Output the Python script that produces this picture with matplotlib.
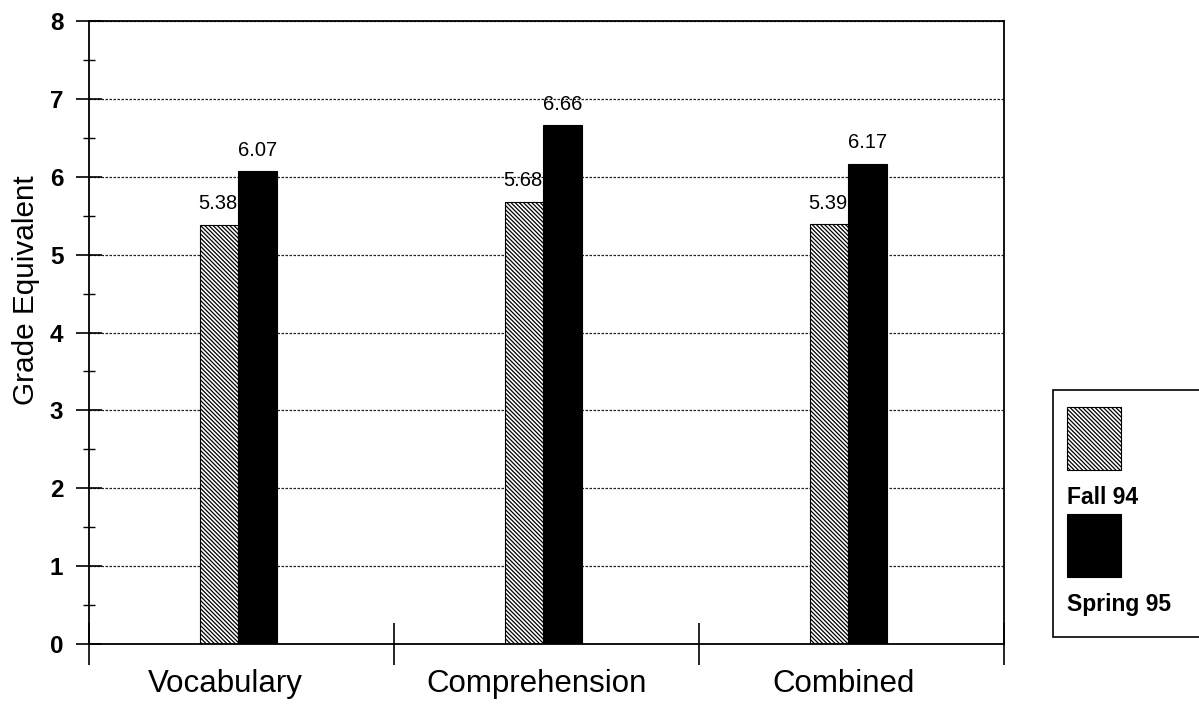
import matplotlib
matplotlib.use("Agg")
import matplotlib.pyplot as plt
from matplotlib.patches import Rectangle
from matplotlib.ticker import MultipleLocator, FixedLocator, NullFormatter
import numpy as np

plt.rcParams["font.family"] = ["Liberation Sans", "DejaVu Sans"]
plt.rcParams["hatch.linewidth"] = 0.9

# ── Data ───────────────────────────────────────────────────────────────────
categories = ["Vocabulary", "Comprehension", "Combined"]
series_names = ["Fall 94", "Spring 95"]
fall_94 = [5.38, 5.68, 5.39]
spring_95 = [6.07, 6.66, 6.17]
y_label = "Grade Equivalent"

HATCH = "\\" * 8

# ── Figure ─────────────────────────────────────────────────────────────────
fig = plt.figure(figsize=(11.99, 7.05), dpi=100)
ax = fig.add_axes([0.0742, 0.0865, 0.7632, 0.8837])

idx = np.arange(len(categories))
width = 0.127
fall_x = idx + 0.426
spring_x = idx + 0.553

ax.bar(fall_x, fall_94, width, color="white", edgecolor="black",
       hatch=HATCH, linewidth=0.8, zorder=3)
ax.bar(spring_x, spring_95, width, color="black", edgecolor="black",
       linewidth=0.8, zorder=3)

for x, v in zip(fall_x, fall_94):
    ax.text(x - 0.005, v + 0.15, f"{v:.2f}", ha="center", va="bottom",
            fontsize=14.5)
for x, v in zip(spring_x, spring_95):
    ax.text(x, v + 0.15, f"{v:.2f}", ha="center", va="bottom",
            fontsize=14.5)

ax.set_xlim(0, 3)
ax.set_ylim(0, 8)

# y axis: bold integer ticks, short minor ticks at the half marks
ax.yaxis.set_major_locator(MultipleLocator(1))
ax.yaxis.set_minor_locator(MultipleLocator(0.5))
ax.tick_params(axis="y", which="major", direction="inout", length=19,
               width=1.2, labelsize=17.5, pad=9)
ax.tick_params(axis="y", which="minor", direction="inout", length=8,
               width=1.0)
for lbl in ax.get_yticklabels():
    lbl.set_fontweight("bold")

# x axis: dividers between categories, names under each group
label_pos = idx + np.array([0.446, 0.466, 0.475])
ax.xaxis.set_major_locator(FixedLocator([0, 1, 2, 3]))
ax.xaxis.set_major_formatter(NullFormatter())
ax.set_xticks(label_pos, categories, minor=True)
ax.tick_params(axis="x", which="major", direction="inout", length=30,
               width=1.2)
ax.tick_params(axis="x", which="minor", length=0, labelsize=22.5, pad=18)

ax.set_ylabel(y_label, fontsize=21.4)
ax.yaxis.set_label_coords(-0.0536, 0.568)

ax.grid(axis="y", which="major", color="#222222", linestyle=(0, (2, 1.2)),
        linewidth=0.9, zorder=1)
for side in ["left", "bottom", "right", "top"]:
    ax.spines[side].set_linewidth(1.3)
    ax.spines[side].set_zorder(4)

# ── Legend box (swatch above each name) ────────────────────────────────────
fig.patches.append(Rectangle((0.878, 0.0965), 0.15, 0.3505,
                             transform=fig.transFigure, facecolor="white",
                             edgecolor="black", linewidth=1.2))
fig.patches.append(Rectangle((0.890, 0.333), 0.045, 0.090,
                             transform=fig.transFigure, facecolor="white",
                             edgecolor="black", hatch=HATCH,
                             linewidth=0.8))
fig.patches.append(Rectangle((0.890, 0.182), 0.045, 0.089,
                             transform=fig.transFigure, facecolor="black",
                             edgecolor="black", linewidth=0.8))
fig.text(0.890, 0.295, series_names[0], fontsize=16.5, fontweight="bold",
         va="center", ha="left")
fig.text(0.890, 0.142, series_names[1], fontsize=16.5, fontweight="bold",
         va="center", ha="left")

fig.savefig("out.png", dpi=100)
